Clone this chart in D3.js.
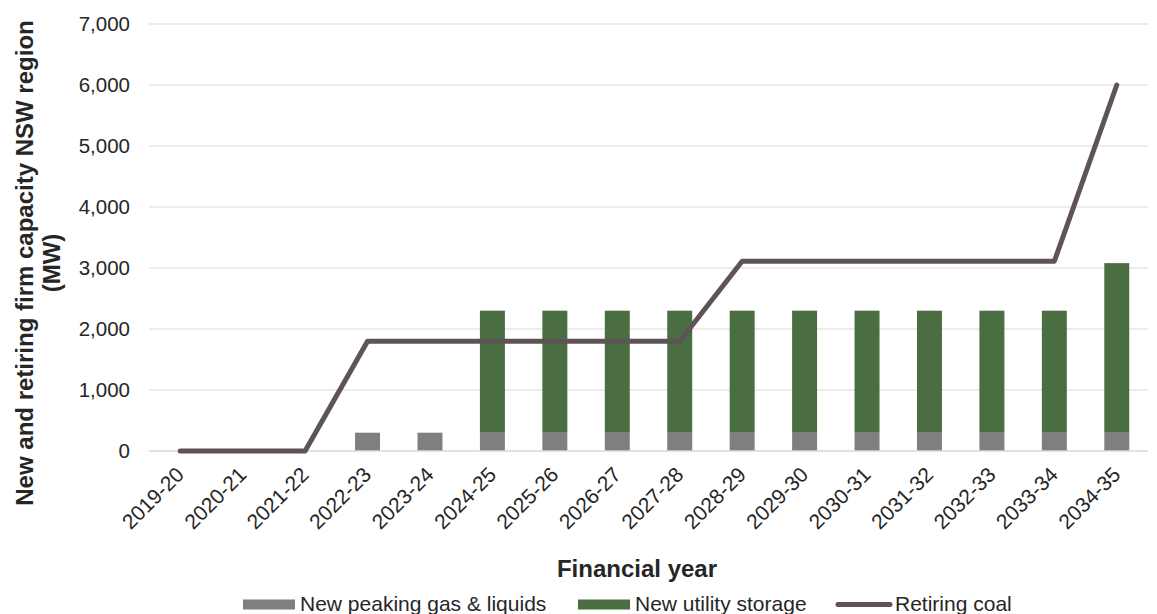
<!DOCTYPE html>
<html>
<head>
<meta charset="utf-8">
<script src="https://cdn.jsdelivr.net/npm/d3@7"></script>
<style>
  body { margin: 0; background: #fff; }
  text { font-family: "Liberation Sans", Arial, sans-serif; fill: #262626; }
</style>
</head>
<body>
<script>
var years = ["2019-20","2020-21","2021-22","2022-23","2023-24","2024-25","2025-26","2026-27",
             "2027-28","2028-29","2029-30","2030-31","2031-32","2032-33","2033-34","2034-35"];
var gas     = [0, 0, 0, 300, 300, 300, 300, 300, 300, 300, 300, 300, 300, 300, 300, 300];
var storage = [0, 0, 0, 0, 0, 2000, 2000, 2000, 2000, 2000, 2000, 2000, 2000, 2000, 2000, 2780];
var coal    = [0, 0, 0, 1800, 1800, 1800, 1800, 1800, 1800, 3110, 3110, 3110, 3110, 3110, 3110, 6000];
var yTicks  = [0, 1000, 2000, 3000, 4000, 5000, 6000, 7000];

var colors = { gas: "#7f7f7f", storage: "#4a6e41", coal: "#5e5457" };

var W = 1157, H = 614;
var svg = d3.select("body").append("svg").attr("width", W).attr("height", H);

var x = d3.scaleBand().domain(years).range([149, 1148]).paddingInner(0.6).paddingOuter(0.3);
var y = d3.scaleLinear().domain([0, 7000]).range([451, 24]);

// gridlines
svg.append("g").selectAll("line").data(yTicks.slice(1)).enter().append("line")
  .attr("x1", 149).attr("x2", 1148)
  .attr("y1", function(d){ return y(d); }).attr("y2", function(d){ return y(d); })
  .attr("stroke", "#d9d9d9").attr("stroke-width", 1);

// y axis labels
var yAxis = d3.axisLeft(y).tickValues(yTicks).tickSize(0).tickPadding(19).tickFormat(d3.format(","));
var ga = svg.append("g").attr("transform", "translate(149,0)").call(yAxis);
ga.select(".domain").remove();
ga.selectAll("text").style("font-size", "20.5px").attr("fill", "#262626");

// bars
var stack = years.map(function(d, i){ return { year: d, gas: gas[i], storage: storage[i] }; });
svg.append("g").selectAll("rect.gas").data(stack).enter().append("rect")
  .attr("x", function(d){ return x(d.year); })
  .attr("width", x.bandwidth())
  .attr("y", function(d){ return y(d.gas); })
  .attr("height", function(d){ return y(0) - y(d.gas); })
  .attr("fill", colors.gas);
svg.append("g").selectAll("rect.st").data(stack).enter().append("rect")
  .attr("x", function(d){ return x(d.year); })
  .attr("width", x.bandwidth())
  .attr("y", function(d){ return y(d.gas + d.storage); })
  .attr("height", function(d){ return y(d.gas) - y(d.gas + d.storage); })
  .attr("fill", colors.storage);

// x axis line
svg.append("line").attr("x1", 149).attr("x2", 1148).attr("y1", y(0)).attr("y2", y(0))
  .attr("stroke", "#d9d9d9").attr("stroke-width", 1.5);

// x axis labels
var cx = function(d){ return x(d) + x.bandwidth() / 2; };
svg.append("g").selectAll("text").data(years).enter().append("text")
  .attr("transform", function(d){ return "translate(" + (cx(d) + 5) + ",476) rotate(-45)"; })
  .attr("text-anchor", "end")
  .style("font-size", "21px")
  .text(function(d){ return d; });

// coal line
var line = d3.line().x(function(d, i){ return cx(years[i]); }).y(function(d){ return y(d); });
svg.append("path").datum(coal).attr("d", line)
  .attr("fill", "none").attr("stroke", colors.coal).attr("stroke-width", 5)
  .attr("stroke-linecap", "round").attr("stroke-linejoin", "round");

// axis titles
svg.append("text").attr("x", 637).attr("y", 577).attr("text-anchor", "middle")
  .style("font-size", "24px").style("font-weight", "bold").text("Financial year");
var yt = svg.append("text").attr("transform", "translate(33,263) rotate(-90)")
  .attr("text-anchor", "middle").style("font-size", "24px").style("font-weight", "bold");
yt.append("tspan").attr("x", 0).attr("dy", 0).text("New and retiring firm capacity NSW region");
yt.append("tspan").attr("x", 0).attr("dy", 27).text("(MW)");

// legend
var legend = [
  { label: "New peaking gas & liquids", type: "rect", color: colors.gas, x: 243 },
  { label: "New utility storage", type: "rect", color: colors.storage, x: 578 },
  { label: "Retiring coal", type: "line", color: colors.coal, x: 835 }
];
var lg = svg.append("g").selectAll("g").data(legend).enter().append("g")
  .attr("transform", function(d){ return "translate(" + d.x + ",604.5)"; });
lg.filter(function(d){ return d.type === "rect"; }).append("rect")
  .attr("x", 0).attr("y", -5).attr("width", 52).attr("height", 10)
  .attr("fill", function(d){ return d.color; });
lg.filter(function(d){ return d.type === "line"; }).append("line")
  .attr("x1", 3).attr("x2", 55).attr("y1", 0).attr("y2", 0)
  .attr("stroke", function(d){ return d.color; }).attr("stroke-width", 5).attr("stroke-linecap", "round");
lg.append("text").attr("x", function(d){ return d.type === "rect" ? 57 : 60; })
  .attr("y", 6.5).style("font-size", "21px")
  .text(function(d){ return d.label; });
</script>
</body>
</html>
